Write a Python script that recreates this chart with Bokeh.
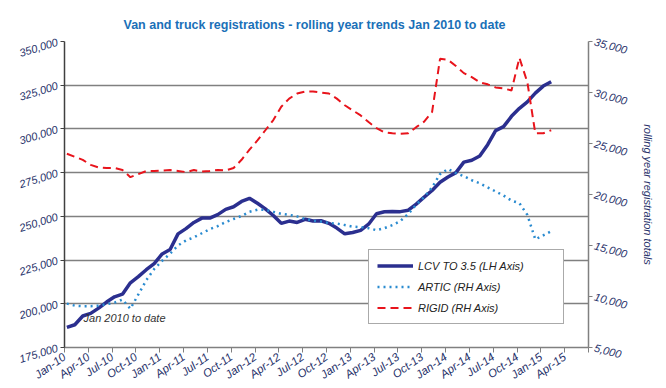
from bokeh.plotting import figure
from bokeh.models import Range1d, LinearAxis, FixedTicker, Legend, LegendItem, Label, NumeralTickFormatter
from bokeh.embed import file_html
from bokeh.resources import INLINE

# ---- data (rolling-year totals, monthly Jan 2010 .. Feb 2015) ----
lcv = [186500, 188000, 193000, 194500, 197500, 201000, 204000, 205500, 212000, 215500,
       219500, 223000, 228500, 231000, 240000, 243000, 246500, 249000, 249000, 251000,
       254000, 255500, 258500, 260300, 257500, 254300, 250500, 246000, 247300, 246500,
       248300, 247300, 247500, 246000, 243300, 240000, 240800, 242000, 245500, 251500,
       252600, 252800, 252700, 253500, 257000, 261000, 264800, 269500, 272500, 275000,
       281000, 282100, 284500, 291000, 299000, 301300, 307200, 311800, 315500, 320500,
       324500, 327000]
artic = [9300, 9100, 9050, 9050, 9100, 9250, 9400, 9700, 8800, 10200,
         11600, 12700, 13500, 14200, 15000, 15500, 15800, 16200, 16600, 16900,
         17300, 17600, 17900, 18300, 18500, 18500, 18300, 18100, 18000, 17850,
         17600, 17450, 17350, 17200, 17150, 17000, 16850, 16800, 16700, 16500,
         16700, 17000, 17400, 18100, 19000, 19750, 20700, 22000, 22500, 22100,
         21800, 21400, 21100, 20700, 20300, 19900, 19400, 19150, 18000, 15600,
         16000, 16400]
rigid = [24000, 23700, 23400, 22900, 22650, 22600, 22600, 22400, 21700, 22000,
         22300, 22300, 22350, 22400, 22300, 22200, 22400, 22250, 22300, 22400,
         22350, 22600, 23400, 24400, 25300, 26300, 27300, 28600, 29400, 29900,
         30100, 30100, 30000, 29900, 29400, 28750, 28250, 27750, 27100, 26500,
         26100, 26000, 25950, 26000, 26600, 27150, 28100, 33300, 33200, 32600,
         31900, 31500, 31000, 30800, 30500, 30400, 30200, 33400, 31000, 26000,
         26000, 26300]
tick_labels = ["Jan-10", "Apr-10", "Jul-10", "Oct-10", "Jan-11", "Apr-11", "Jul-11", "Oct-11",
               "Jan-12", "Apr-12", "Jul-12", "Oct-12", "Jan-13", "Apr-13", "Jul-13", "Oct-13",
               "Jan-14", "Apr-14", "Jul-14", "Oct-14", "Jan-15", "Apr-15", ""]
left_ticks = [175000, 200000, 225000, 250000, 275000, 300000, 325000, 350000]
right_ticks = [5000, 10000, 15000, 20000, 25000, 30000, 35000]
series_names = ["LCV TO 3.5 (LH Axis)", "ARTIC (RH Axis)", "RIGID (RH Axis)"]

x = [m + 0.3 for m in range(len(lcv))]
quarter_ticks = [3 * i for i in range(len(tick_labels))]

FONT = "Liberation Sans"
LABEL_COLOR = "#27326a"

p = figure(width=660, height=388, output_backend="svg", toolbar_location=None,
           x_range=Range1d(0, 66), y_range=Range1d(175000, 350000),
           min_border_left=64, min_border_right=72, min_border_top=41, min_border_bottom=41)
p.extra_y_ranges = {"rh": Range1d(5000, 35000)}
p.outline_line_color = None
p.background_fill_color = "white"

p.title.text = "Van and truck registrations - rolling year trends Jan 2010 to date"
p.title.align = "left"
p.title.offset = 59
p.title.standoff = 19
p.title.text_font = FONT
p.title.text_font_size = "12.5px"
p.title.text_font_style = "bold"
p.title.text_color = "#1a70b8"

r1 = p.line(x, lcv, line_color="#2b2f8f", line_width=3.5)
r2 = p.line(x, artic, y_range_name="rh", line_color="#2a8bd0", line_width=2.5, line_dash="2 4")
r3 = p.line(x, rigid, y_range_name="rh", line_color="#e8141c", line_width=2, line_dash="8 5")

# x axis
xa = p.xaxis[0]
xa.ticker = FixedTicker(ticks=quarter_ticks)
xa.major_label_overrides = {t: lab for t, lab in zip(quarter_ticks, tick_labels)}
xa.major_label_orientation = 0.62
xa.minor_tick_line_color = None
xa.major_tick_in = 0
xa.major_tick_out = 5
xa.axis_line_color = "#808080"
xa.axis_line_width = 1.5
xa.major_tick_line_color = "#808080"
xa.major_label_standoff = 3

# left axis
ya = p.yaxis[0]
ya.ticker = FixedTicker(ticks=left_ticks)
ya.formatter = NumeralTickFormatter(format="0,0")
ya.major_label_orientation = 0.3
ya.minor_tick_line_color = None
ya.major_tick_in = 0
ya.major_tick_out = 4
ya.axis_line_color = "#404040"
ya.axis_line_width = 1.5
ya.major_tick_line_color = "#404040"
ya.major_label_standoff = 3

# right axis
ra = LinearAxis(y_range_name="rh", ticker=FixedTicker(ticks=right_ticks),
                formatter=NumeralTickFormatter(format="0,0"),
                axis_label="rolling year registration totals")
ra.major_label_orientation = -0.26
ra.minor_tick_line_color = None
ra.major_tick_in = 0
ra.major_tick_out = 4
ra.axis_line_color = "#808080"
ra.axis_line_width = 1.5
ra.major_tick_line_color = "#808080"
ra.major_label_standoff = 2
ra.axis_label_standoff = 10
ra.axis_label_text_font = FONT
ra.axis_label_text_font_style = "italic"
ra.axis_label_text_font_size = "11px"
ra.axis_label_text_color = LABEL_COLOR
p.add_layout(ra, "right")

for ax in (xa, ya, ra):
    ax.major_label_text_font = FONT
    ax.major_label_text_font_style = "italic"
    ax.major_label_text_font_size = "11.5px" if ax is xa else "11px"
    ax.major_label_text_color = LABEL_COLOR

p.xgrid.visible = False
p.ygrid.ticker = FixedTicker(ticks=left_ticks)
p.ygrid.grid_line_color = "#808080"
p.ygrid.grid_line_width = 1.3

legend = Legend(items=[LegendItem(label=series_names[0], renderers=[r1]),
                       LegendItem(label=series_names[1], renderers=[r2]),
                       LegendItem(label=series_names[2], renderers=[r3])],
                location=(304, 23), margin=0, padding=8, spacing=6,
                glyph_width=36, glyph_height=15, label_height=15, label_width=137,
                label_standoff=5,
                border_line_color="#555555", border_line_width=1,
                background_fill_color="white", background_fill_alpha=1.0,
                label_text_font=FONT, label_text_font_style="italic",
                label_text_font_size="11px", label_text_color="#222222")
p.add_layout(legend)

note = Label(x=2.4, y=191600, text="Jan 2010 to date", text_font=FONT,
             text_font_style="italic", text_font_size="11px", text_color="#333333",
             text_baseline="middle")
p.add_layout(note)

open("out.html", "w").write(file_html(p, INLINE))
